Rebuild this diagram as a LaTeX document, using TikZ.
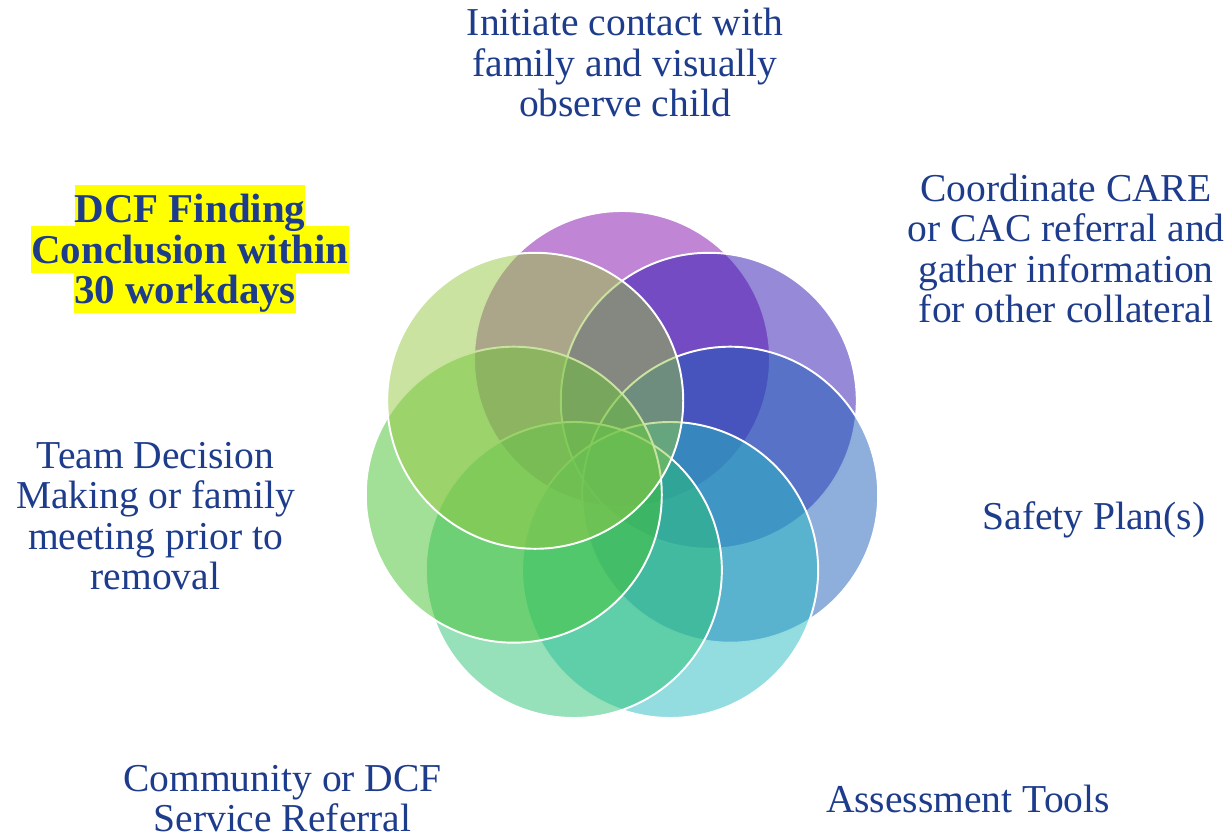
\documentclass[tikz,border=0pt]{standalone}
\usepackage{fontspec}
\setmainfont{Liberation Serif}

\definecolor{labelblue}{RGB}{30,60,140}
\definecolor{hiyellow}{RGB}{255,255,0}
% petal colours (used at 50% fill opacity)
\definecolor{petalA}{RGB}{129,11,169}
\definecolor{petalB}{RGB}{43,19,177}
\definecolor{petalC}{RGB}{29,93,185}
\definecolor{petalD}{RGB}{39,185,193}
\definecolor{petalE}{RGB}{45,195,115}
\definecolor{petalF}{RGB}{69,193,49}
\definecolor{petalG}{RGB}{151,199,65}

\begin{document}
\begin{tikzpicture}[
  petal/.style={circle,draw=white,line width=1.1pt,fill opacity=0.5,
    minimum size=5.92cm,inner sep=0pt},
  lbl/.style={text=labelblue,align=center,anchor=base,inner sep=0pt,
    font=\fontsize{22.5}{23.1}\selectfont},
  hilite/.style={fill=hiyellow,text=labelblue,anchor=base,inner sep=0pt,
    text height=0.746cm,text depth=0.19cm,
    font=\fontsize{23.3}{23.1}\selectfont\bfseries},
]
  \useasboundingbox (0,0) rectangle (24.64,16.74);

  % Flower: seven petals, clockwise from the top
  \begin{scope}[shift={(12.44,7.34)}]
    \node[petal,fill=petalA] (pContact) at (90:2.22) {};
    \node[petal,fill=petalB] (pCoord) at (38.57:2.22) {};
    \node[petal,fill=petalC] (pSafety) at (-12.86:2.22) {};
    \node[petal,fill=petalD] (pAssess) at (-64.29:2.22) {};
    \node[petal,fill=petalE] (pReferral) at (-115.71:2.22) {};
    \node[petal,fill=petalF] (pTeam) at (-167.14:2.22) {};
    \node[petal,fill=petalG] (pFinding) at (141.43:2.22) {};
  \end{scope}

  % Labels round the flower (base = last line)
  \node[lbl] (tContact) at (12.50,14.40)
    {Initiate contact with\\family and visually\\observe child};
  \node[lbl] (tCoord) at (21.32,10.28)
    {Coordinate CARE\\or CAC referral and\\gather information\\for other collateral};
  \node[lbl] (tSafety) at (21.88,6.14) {Safety Plan(s)};
  \node[lbl] (tAssess) at (19.36,0.48) {Assessment Tools};
  \node[lbl] (tReferral) at (5.65,0.10)
    {Community or DCF\\Service Referral};
  \node[lbl] (tTeam) at (3.11,4.94)
    {Team Decision\\Making or family\\meeting prior to\\removal};

  % highlighted deadline, bottom line first so descenders stay on top
  \node[hilite] (tFindingC) at (3.70,10.67) {30 workdays};
  \node[hilite] (tFindingB) at (3.80,11.47) {Conclusion within\ };
  \node[hilite] (tFindingA) at (3.80,12.29) {DCF Finding\ };
\end{tikzpicture}
\end{document}
